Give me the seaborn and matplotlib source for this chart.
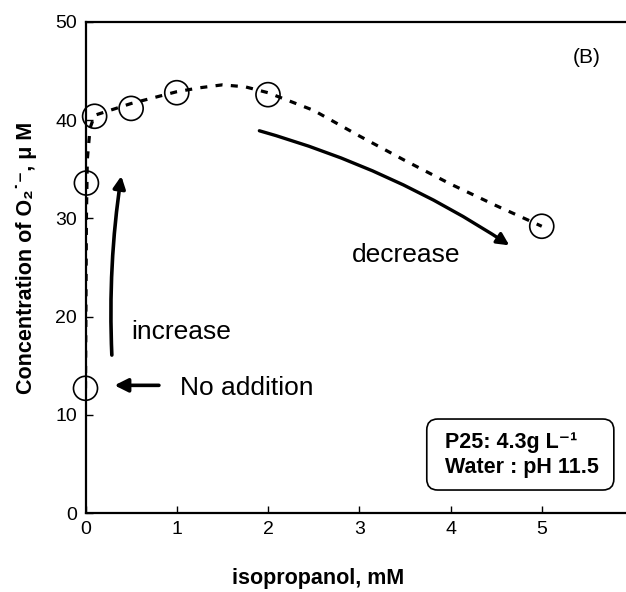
import numpy as np
import pandas as pd
import matplotlib
matplotlib.use("Agg")
import matplotlib.pyplot as plt
from matplotlib.patches import FancyBboxPatch
import seaborn as sns

# measured points
iso_mM = [0.0, 0.01, 0.1, 0.5, 1.0, 2.0, 5.0]
o2_uM = [12.7, 33.6, 40.4, 41.2, 42.8, 42.6, 29.2]

# dashed trend curve as drawn in the figure
trend_x = [0.0, 0.01, 0.02, 0.05, 0.1, 0.3, 0.5, 0.75, 1.0, 1.25, 1.5, 1.75, 2.0, 2.5, 3.0, 3.5, 4.0, 4.5, 5.0]
trend_y = [12.7, 30.0, 36.0, 39.2, 40.5, 41.1, 41.7, 42.3, 42.9, 43.3, 43.6, 43.4, 42.8, 41.0, 38.4, 35.9, 33.5, 31.3, 29.2]

xticks = [0, 1, 2, 3, 4, 5, 6]
xticklabels = ["0", "1", "2", "3", "4", "5", ""]
yticks = [0, 10, 20, 30, 40, 50]

sns.set_theme(style="ticks")
plt.rcParams['font.family'] = ['Liberation Sans', 'DejaVu Sans']
plt.rcParams['text.color'] = 'black'

fig = plt.figure(figsize=(6.26, 5.92), dpi=100)
ax = fig.add_axes([85.5/626, (592-513)/592, (633-85.5)/626, (513-22)/592])

df_t = pd.DataFrame({"x": trend_x, "y": trend_y})
df_p = pd.DataFrame({"x": iso_mM, "y": o2_uM})
sns.lineplot(data=df_t, x="x", y="y", ax=ax, color="black", lw=2.3,
             linestyle=(0, (2.2, 2.6)), sort=False, estimator=None)
sns.scatterplot(data=df_p, x="x", y="y", ax=ax, s=300, facecolor="none",
                edgecolor="black", linewidth=1.2, zorder=5, clip_on=False)

ax.set_xlim(0, 6)
ax.set_ylim(0, 50)
ax.set_xticks(xticks)
ax.set_xticklabels(xticklabels)
ax.set_yticks(yticks)
ax.tick_params(direction="in", length=5, width=1, labelsize=14, colors="black", pad=6)
for s in ax.spines.values():
    s.set_linewidth(1.6)
    s.set_color("black")

ax.set_xlabel("isopropanol, mM", fontsize=15.5, fontweight="bold", color="black")
ax.xaxis.set_label_coords(0.425, -0.112)
ax.set_ylabel("Concentration of O\u2082\u02d9\u207b, \u03bc M", fontsize=15.5,
              fontweight="bold", color="black")
ax.yaxis.set_label_coords(-0.088, 0.52)

# annotations
ax.annotate("", xy=(0.397, 34.6), xytext=(0.29, 15.8),
            arrowprops=dict(arrowstyle="-|>", lw=2.6, color="black",
                            mutation_scale=18, connectionstyle="arc3,rad=-0.05"))
ax.annotate("", xy=(0.287, 13.0), xytext=(0.835, 13.0),
            arrowprops=dict(arrowstyle="-|>", lw=2.6, color="black", mutation_scale=20))
ax.annotate("", xy=(4.67, 27.1), xytext=(1.876, 39.0),
            arrowprops=dict(arrowstyle="-|>", lw=2.4, color="black",
                            mutation_scale=18, connectionstyle="arc3,rad=-0.08"))

ax.text(0.50, 18.4, "increase", fontsize=19, va="center", ha="left")
ax.text(1.04, 12.7, "No addition", fontsize=19, va="center", ha="left")
ax.text(2.92, 26.3, "decrease", fontsize=19, va="center", ha="left")
ax.text(5.34, 46.4, "(B)", fontsize=15, va="center", ha="left")

box = FancyBboxPatch((3.74, 2.34), 5.79 - 3.74, 9.57 - 2.34,
                     boxstyle="round,pad=0,rounding_size=0.12", mutation_aspect=9.29,
                     fc="white", ec="black", lw=1.2, zorder=6)
ax.add_patch(box)
ax.text(3.94, 7.13, "P25: 4.3g L\u207b\u00b9", fontsize=15.5, fontweight="bold",
        va="center", ha="left", zorder=7)
ax.text(3.94, 4.68, "Water : pH 11.5", fontsize=15.5, fontweight="bold",
        va="center", ha="left", zorder=7)

fig.savefig("out.png", dpi=100)
